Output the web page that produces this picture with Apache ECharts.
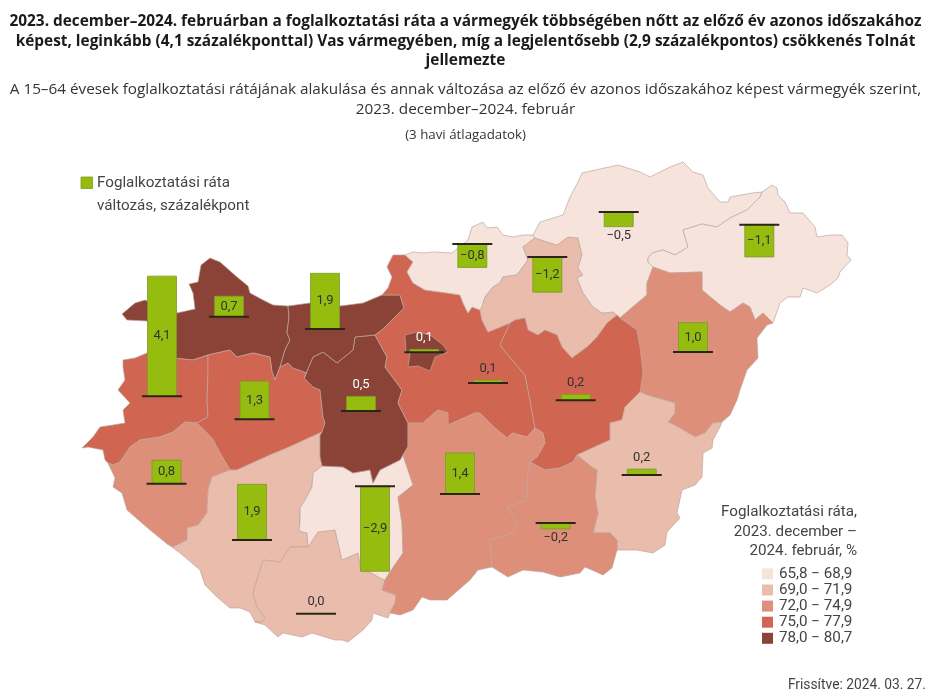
<!DOCTYPE html>
<html><head><meta charset="utf-8">
<style>html,body{margin:0;padding:0;background:#fff}#c{width:931px;height:700px}</style>
<script src="https://cdn.jsdelivr.net/npm/echarts@6/dist/echarts.min.js"></script>
</head><body><div id="c"></div>
<script>
// ---- data ----
const counties = ['Győr-Moson-Sopron','Vas','Veszprém','Zala','Somogy','Baranya','Tolna','Fejér','Komárom-Esztergom','Pest','Budapest','Nógrád','Heves','Borsod-Abaúj-Zemplén','Szabolcs-Szatmár-Bereg','Hajdú-Bihar','Jász-Nagykun-Szolnok','Békés','Csongrád-Csanád','Bács-Kiskun'];
const changes = [0.7,4.1,1.3,0.8,1.9,0.0,-2.9,0.5,1.9,0.1,0.1,-0.8,-1.2,-0.5,-1.1,1.0,0.2,0.2,-0.2,1.4];
const rates   = [79.3,76.4,76.4,73.4,70.4,70.4,67.3,79.3,79.3,76.4,79.3,67.3,70.4,67.3,67.3,73.4,76.4,70.4,73.4,73.4];
const binLabels = ['65,8 − 68,9','69,0 − 71,9','72,0 − 74,9','75,0 − 77,9','78,0 − 80,7'];
const binMins = [65.8,69.0,72.0,75.0,78.0];
const binMaxs = [68.9,71.9,74.9,77.9,80.7];
const binColors = ['#f5e3dc','#e9bcab','#dd8f7a','#d06652','#8a4336'];
// where each county's bar stands on the map (map coordinates)
const barAnchors = [[229,316.7],[162,396.3],[254.5,419.3],[166.5,483.7],[252,540],[316,613.7],[375,486.3],[361,411],[325,329],[488,383],[424.3,352.3],[472.3,244],[547.3,257],[618.7,212],[759.3,224.7],[693,352],[575.7,400.3],[641.7,475],[555.7,523],[460,494]];

// ---- county outlines: shared border arcs (map coordinates) ----
const arcs = {
gy_out:[[172,358],[160,345],[147,321],[127,320],[122,314],[135,303],[145,300],[150,302],[177,313],[195,309],[193,293],[189,284],[198,282],[201,265],[210,258],[220,262],[237,277],[248,286],[250,293],[263,300],[273,305],[288,306]],
gy_ke:[[288,306],[289,317],[287,333],[290,340],[285,350],[280,367]],
gy_ve:[[208,355],[230,350],[237,357],[253,353],[270,357],[272,372],[275,380],[280,367]],
gy_va:[[172,358],[193,360],[208,355]],
va_ve:[[208,355],[208,375],[207,400],[208,417],[197,423]],
va_za:[[197,423],[185,422],[173,432],[160,437],[140,440],[130,447],[120,462],[113,465],[108,463]],
va_out:[[108,463],[105,460],[103,450],[88,447],[82,448],[93,437],[100,427],[113,425],[125,423],[123,410],[130,403],[118,390],[125,380],[123,367],[123,360],[135,358],[147,353],[172,358]],
ve_ke:[[280,367],[288,363],[293,368],[307,373],[304,378]],
ve_fe:[[304,378],[313,387],[320,390],[323,417],[325,423],[322,432]],
ve_so:[[322,432],[287,448],[270,455],[237,470],[230,470]],
ve_za:[[230,470],[220,453],[212,438],[197,423]],
za_out:[[108,463],[115,478],[113,487],[122,493],[127,510],[150,530],[166,543]],
za_so:[[230,470],[212,477],[208,490],[207,513],[198,525],[187,528],[187,540],[173,547],[166,543]],
fe_so:[[322,432],[320,435],[320,457],[322,466]],
so_to:[[322,466],[313,473],[312,487],[305,500],[300,508],[300,523],[299,531],[307,533],[308,547]],
so_ba:[[308,547],[290,547],[280,562],[263,560],[260,570],[253,593],[257,607],[265,618],[262,622],[255,622]],
so_out:[[255,622],[250,612],[240,608],[230,608],[217,597],[205,585],[200,570],[180,553],[166,543]],
ba_to:[[308,547],[318,532],[335,530],[342,560],[358,553],[361,570],[370,572],[380,578],[385,580]],
ba_ba:[[385,580],[382,590],[396,595],[395,603],[390,613]],
ba_out:[[390,613],[388,618],[373,613],[372,620],[363,630],[348,642],[342,640],[335,640],[312,633],[302,637],[283,633],[278,637],[265,625],[255,622]],
to_ba:[[385,580],[390,572],[403,553],[402,523],[398,497],[413,485],[408,470],[403,455]],
to_fe:[[403,455],[400,460],[380,470],[373,483],[370,470],[353,473],[343,467],[322,466]],
fe_ba:[[403,455],[408,447],[408,423]],
fe_pe:[[408,423],[398,403],[402,390],[385,367],[387,357],[375,335]],
ke_fe:[[375,335],[355,337],[353,350],[337,363],[323,352],[313,357],[304,378]],
ke_out:[[288,306],[310,303],[340,306],[363,303],[382,295]],
ke_pe:[[382,295],[400,295],[404,308],[395,317],[382,330],[375,335]],
pe_out:[[382,295],[388,288],[392,277],[387,267],[393,255],[405,255]],
pe_no:[[405,255],[413,262],[407,272],[413,283],[425,290],[447,293],[460,295],[463,303],[468,313],[472,307],[480,310]],
pe_he:[[480,310],[482,320],[488,332],[510,323]],
pe_sz:[[510,323],[500,345],[512,360],[525,375],[530,400],[535,428]],
pe_ba:[[408,423],[423,423],[438,410],[448,413],[448,425],[475,413],[480,413],[495,428],[507,438],[512,433],[527,437],[535,428]],
no_out:[[405,255],[413,252],[423,253],[433,252],[452,253],[468,240],[472,227],[483,222],[487,228],[497,227],[503,235],[513,237],[523,235],[533,235],[535,238]],
no_he:[[535,238],[523,247],[528,260],[517,275],[503,277],[500,283],[493,287],[485,297],[482,307],[480,310]],
he_sz:[[510,323],[515,320],[525,318],[528,330],[538,335],[545,330],[557,335],[562,347],[572,358],[587,347],[597,337],[607,323],[617,315],[620,318]],
he_bo:[[535,238],[547,242],[557,245],[568,237],[578,238],[582,255],[578,268],[583,275],[577,278],[583,293],[593,307],[602,313],[613,312],[620,318]],
bo_out:[[535,238],[533,235],[540,222],[563,215],[570,197],[578,182],[582,173],[618,165],[640,172],[650,177],[670,167],[683,162],[693,172],[703,175],[708,188],[720,202],[728,202],[730,197],[752,193],[762,192]],
bo_sz:[[653,267],[648,262],[648,258],[652,253],[663,250],[675,255],[688,247],[683,230],[702,224],[717,227],[730,218],[747,210],[760,197],[762,192]],
bo_ha:[[620,318],[635,305],[647,295],[647,283],[653,267]],
sz_out:[[762,192],[772,185],[777,188],[778,195],[785,202],[790,213],[803,213],[815,227],[817,237],[830,235],[842,235],[848,243],[847,255],[851,260],[840,272],[838,278],[830,285],[817,293],[803,288],[800,297],[788,297],[780,303],[773,323]],
sz_ha:[[773,323],[763,313],[755,320],[750,307],[743,303],[730,312],[720,305],[702,290],[702,272],[670,273],[653,267]],
ha_out:[[773,323],[767,325],[757,338],[758,358],[747,370],[740,390],[737,400],[730,415],[722,422]],
ha_be:[[640,392],[647,395],[675,403],[675,413],[668,422],[680,428],[695,437],[705,433],[713,423],[722,422]],
ha_so:[[620,318],[637,330],[640,347],[643,373],[640,392]],
sz_be:[[640,392],[625,407],[622,420],[610,423],[610,440],[577,455]],
sz_cs:[[577,455],[573,462],[560,468],[545,470],[530,462]],
sz_ba:[[530,462],[537,457],[545,443],[543,433],[535,428]],
be_out:[[722,422],[720,427],[713,440],[712,448],[703,453],[702,477],[695,485],[682,490],[677,513],[680,518],[667,532],[665,545],[653,553],[637,550],[617,550]],
be_cs:[[577,455],[593,468],[597,470],[595,497],[598,513],[593,533],[610,533],[617,540],[617,550]],
cs_out:[[617,550],[612,568],[603,575],[585,567],[580,573],[560,577],[543,572],[523,570],[508,577],[492,567]],
ba_cs:[[530,462],[528,473],[527,500],[507,507],[517,523],[513,533],[490,540],[492,567]],
ba_o2:[[492,567],[478,570],[470,580],[447,600],[430,600],[422,597],[413,610],[400,615],[390,613]],
bp:[[405,335],[417,332],[430,335],[443,345],[448,352],[435,357],[430,371],[418,366],[408,367],[410,353],[406,352],[405,335]]
};
const rings = {
'Győr-Moson-Sopron':['gy_out','gy_ke','-gy_ve','-gy_va'],
'Vas':['gy_va','va_ve','va_za','va_out'],
'Veszprém':['gy_ve','ve_ke','ve_fe','ve_so','ve_za','-va_ve'],
'Zala':['va_za','za_out','-za_so','ve_za'],
'Somogy':['-ve_so','fe_so','so_to','so_ba','so_out','-za_so'],
'Baranya':['-so_ba','ba_to','ba_ba','ba_out'],
'Tolna':['ba_to','to_ba','to_fe','so_to'],
'Fejér':['ve_fe','fe_so','-to_fe','fe_ba','fe_pe','ke_fe'],
'Komárom-Esztergom':['ke_out','ke_pe','ke_fe','-ve_ke','-gy_ke'],
'Pest':['pe_out','pe_no','pe_he','pe_sz','-pe_ba','fe_pe','-ke_pe'],
'Budapest':['bp'],
'Nógrád':['no_out','no_he','-pe_no'],
'Heves':['no_he','pe_he','he_sz','-he_bo'],
'Borsod-Abaúj-Zemplén':['bo_out','-bo_sz','-bo_ha','-he_bo'],
'Szabolcs-Szatmár-Bereg':['bo_sz','sz_out','sz_ha'],
'Hajdú-Bihar':['-sz_ha','ha_out','-ha_be','-ha_so','bo_ha'],
'Jász-Nagykun-Szolnok':['he_sz','ha_so','sz_be','sz_cs','sz_ba','-pe_sz'],
'Békés':['-sz_be','ha_be','be_out','-be_cs'],
'Csongrád-Csanád':['-sz_cs','be_cs','cs_out','-ba_cs'],
'Bács-Kiskun':['pe_ba','-sz_ba','ba_cs','ba_o2','-ba_ba','to_ba','fe_ba']
};
const flip = p => [p[0], -p[1]];
function ring(parts){
  const out=[];
  parts.forEach(n=>{
    const rev=n[0]==='-';
    const a=arcs[rev?n.slice(1):n];
    (rev?[...a].reverse():a).forEach(p=>out.push(flip(p)));
  });
  out.push(out[0]);
  return out;
}
const geojson={type:'FeatureCollection',features:counties.map(name=>({
  type:'Feature',properties:{name},geometry:{type:'Polygon',coordinates:[ring(rings[name])]}
}))};
echarts.registerMap('hu',geojson);

const unitsPerPoint = 29.3;   // bar length in map units per percentage point
const fmt = v => (v<0?'−':'')+Math.abs(v).toFixed(1).replace('.',',');
const labelFont = '13px Roboto';
const darkCut = binMins[4];

function renderBar(params, api){
  const x=api.value(0), y=api.value(1), v=api.value(2), rate=api.value(3);
  const left=api.coord([x-14.5,y])[0], right=api.coord([x+14.5,y])[0];
  const base=api.coord([x,y])[1], end=api.coord([x,y+v*unitsPerPoint])[1];
  const top=Math.min(base,end), bottom=Math.max(base,end);
  const cx=api.coord([x,y])[0];
  const big=Math.abs(v)>=0.7;
  let ly;
  if(big) ly=(top+bottom)/2; else if(v<0) ly=bottom+9; else ly=top-11.5;
  const white=!big && rate>=darkCut;
  const children=[];
  if(v!==0) children.push({type:'rect',shape:{x:left,y:top,width:right-left,height:bottom-top},
    style:{fill:'#95bc0e',stroke:'#7b9a24',lineWidth:0.8}});
  children.push({type:'line',shape:{x1:cx-20,y1:base,x2:cx+20,y2:base},style:{stroke:'#2b2518',lineWidth:2}});
  children.push({type:'text',style:{x:cx,y:ly,text:fmt(v),align:'center',verticalAlign:'middle',font:labelFont,fill:white?'#ffffff':'#333333'}});
  return {type:'group',children};
}

const chart=echarts.init(document.getElementById('c'),null,{renderer:'canvas'});
const titleFont='"Open Sans"';
chart.setOption({
  animation:false,
  backgroundColor:'#fff',
  title:[
    {text:'2023. december–2024. februárban a foglalkoztatási ráta a vármegyék többségében nőtt az előző év azonos időszakához\nképest, leginkább (4,1 százalékponttal) Vas vármegyében, míg a legjelentősebb (2,9 százalékpontos) csökkenés Tolnát\njellemezte',
     left:465.5,top:12,padding:0,textAlign:'center',textStyle:{fontFamily:titleFont,fontWeight:'bold',fontSize:15.4,lineHeight:19.5,color:'#1a1a1a'}},
    {text:'A 15–64 évesek foglalkoztatási rátájának alakulása és annak változása az előző év azonos időszakához képest vármegyék szerint,\n2023. december–2024. február',
     left:465.5,top:80,padding:0,textAlign:'center',textStyle:{fontFamily:titleFont,fontWeight:'normal',fontSize:15.3,lineHeight:19.5,color:'#333'}},
    {text:'(3 havi átlagadatok)',left:465.5,top:129,padding:0,textAlign:'center',textStyle:{fontFamily:titleFont,fontWeight:'normal',fontSize:13.3,color:'#333'}},
    {text:'Foglalkoztatási ráta\nváltozás, százalékpont',left:97,top:172,padding:0,textStyle:{fontFamily:'Roboto',fontWeight:'normal',fontSize:15.2,lineHeight:22.5,color:'#444'}},
    {text:'Foglalkoztatási ráta,\n2023. december –\n2024. február, %',left:857,top:502.5,padding:0,textAlign:'right',textStyle:{fontFamily:'Roboto',fontWeight:'normal',fontSize:15.2,lineHeight:19.5,align:'right',color:'#444'}},
    {text:'Frissítve: 2024. 03. 27.',left:926,top:676,padding:0,textAlign:'right',textStyle:{fontFamily:'Roboto',fontWeight:'normal',fontSize:13.8,lineHeight:20,color:'#444'}}
  ],
  geo:{map:'hu',roam:false,silent:true,aspectScale:1,
    boundingCoords:[[0,0],[931,-700]],left:0,top:0,width:931,height:700,
    label:{show:false},
    itemStyle:{areaColor:'#eee',borderColor:'rgba(190,165,155,0.85)',borderWidth:0.8},
    emphasis:{disabled:true}},
  visualMap:{type:'piecewise',seriesIndex:0,left:762,top:566.4,orient:'vertical',inverse:true,align:'left',
    pieces:binMins.map((m,i)=>({min:m,max:binMaxs[i],label:binLabels[i],color:binColors[i]})),
    itemWidth:11,itemHeight:11,itemGap:1.1,itemSymbol:'rect',textGap:6,padding:0,
    hoverLink:false,selectedMode:false,
    textStyle:{fontFamily:'Roboto',fontSize:15.2,color:'#444'}},
  graphic:[{type:'rect',shape:{x:81,y:177,width:11.5,height:11.5},style:{fill:'#95bc0e',stroke:'#7b9a24',lineWidth:0.8}}],
  series:[
    {type:'map',geoIndex:0,data:counties.map((n,i)=>({name:n,value:rates[i]}))},
    {type:'custom',coordinateSystem:'geo',silent:true,z:5,renderItem:renderBar,
     data:counties.map((n,i)=>({name:n,value:[barAnchors[i][0],-barAnchors[i][1],changes[i],rates[i]]}))}
  ]
});
</script></body></html>
